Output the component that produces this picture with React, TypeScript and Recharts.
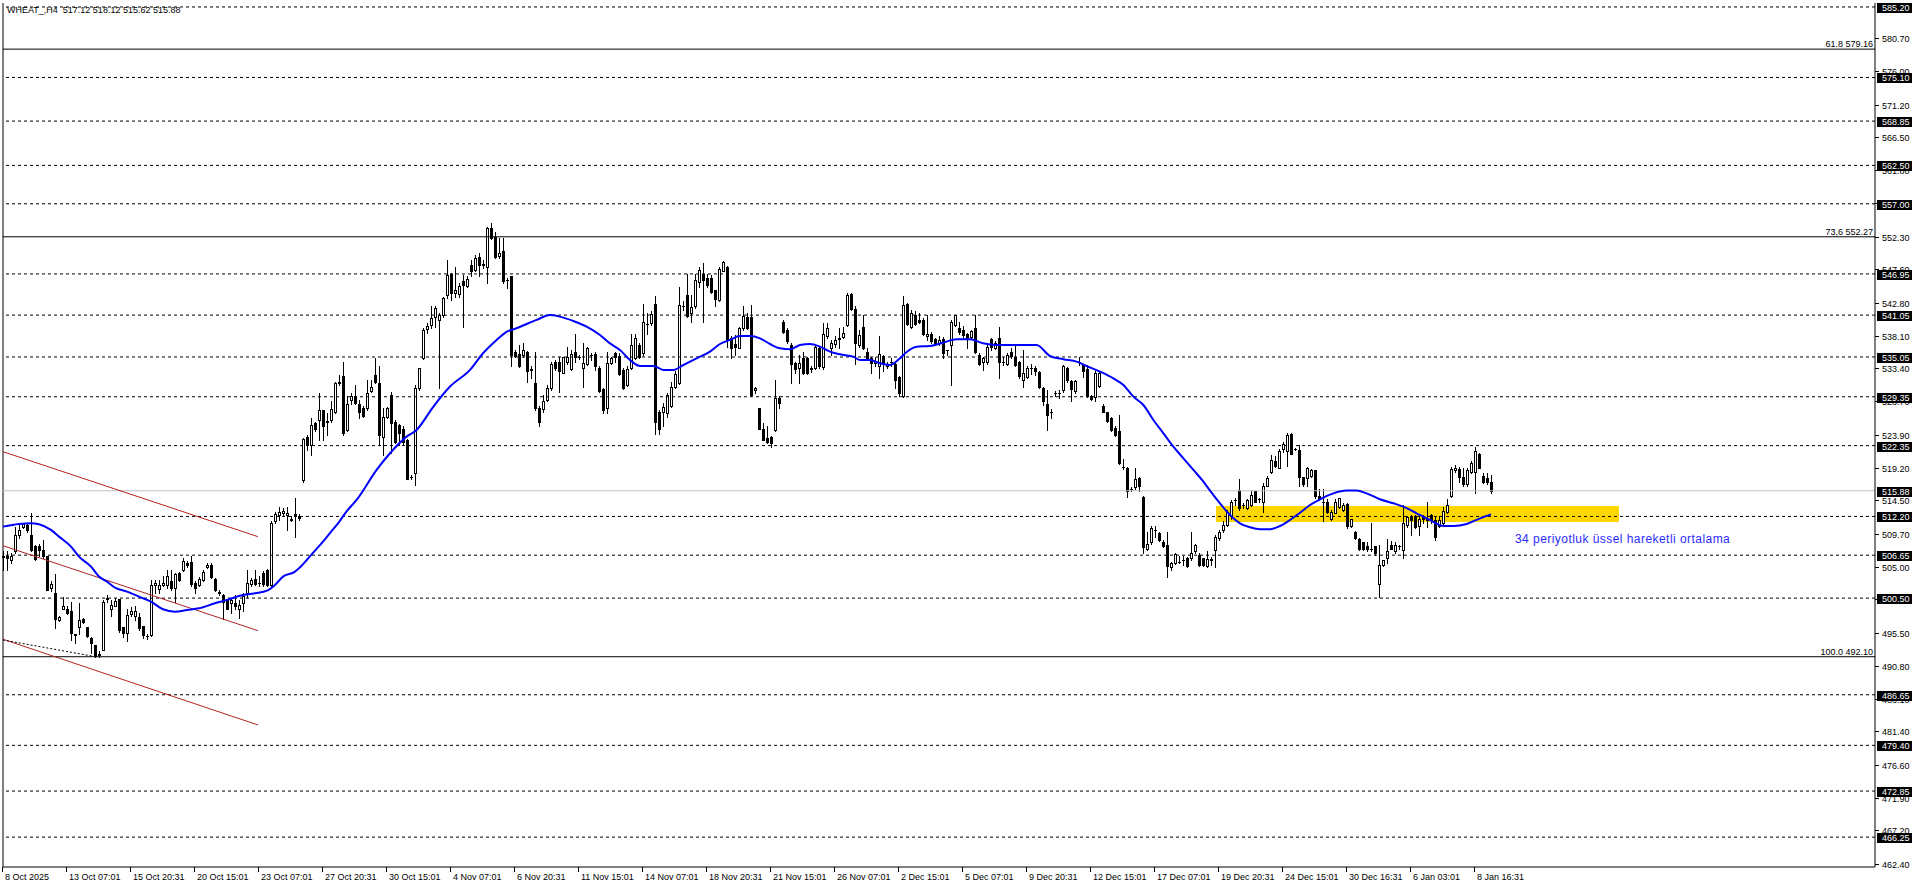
import React from "react";
import { ComposedChart, Bar, Line, XAxis, YAxis, ReferenceLine, ReferenceArea } from "recharts";

// WHEAT_ H4 candles, bar index 0..372
const opens = [
  506.5, 506.6, 505.9, 507.2, 509.5, 510.7, 511.0, 509.5, 508.0, 508.0,
  507.4, 506.5, 501.9, 501.3, 497.3, 499.0, 499.0, 498.7, 495.4, 496.4,
  497.5, 496.4, 494.8, 493.8, 492.4, 493.1, 500.4, 498.9, 499.4, 500.3,
  496.3, 495.5, 498.2, 498.0, 497.8, 496.5, 495.1, 495.2, 502.4, 501.8,
  502.4, 502.4, 502.9, 501.9, 504.1, 504.5, 505.6, 505.7, 502.6, 502.4,
  503.1, 504.9, 505.3, 503.3, 501.3, 501.0, 500.2, 499.8, 499.8, 499.0,
  499.8, 501.2, 502.5, 503.2, 502.7, 504.1, 504.5, 502.4, 511.5, 512.4,
  512.7, 512.4, 511.9, 512.5, 512.3, 517.4, 523.6, 522.5, 525.6, 526.0,
  527.4, 525.7, 526.0, 527.2, 531.3, 532.3, 524.6, 528.9, 529.4, 528.3,
  527.7, 527.7, 530.2, 532.5, 531.3, 523.6, 526.4, 529.6, 525.8, 525.3,
  524.7, 523.2, 517.8, 518.4, 530.6, 534.9, 539.0, 539.6, 540.8, 540.4,
  541.1, 544.0, 547.0, 544.2, 544.1, 545.9, 545.2, 548.2, 547.5, 549.4,
  548.4, 548.0, 553.5, 552.3, 549.5, 550.2, 546.1, 546.6, 535.8, 535.5,
  535.4, 535.8, 533.2, 531.3, 527.7, 527.6, 528.9, 530.6, 534.4, 534.4,
  532.8, 534.4, 533.3, 535.7, 535.1, 533.4, 534.1, 535.3, 535.5, 533.4,
  530.4, 527.7, 534.2, 535.6, 535.2, 533.2, 531.0, 533.4, 534.9, 536.8,
  535.6, 539.8, 539.9, 542.7, 527.2, 527.2, 527.0, 528.0, 530.8, 531.3,
  542.4, 543.9, 541.3, 542.3, 545.8, 546.9, 546.3, 546.3, 544.6, 543.2,
  547.4, 548.0, 537.7, 536.9, 536.4, 539.2, 540.8, 540.8, 530.3, 527.7,
  524.8, 523.4, 523.6, 524.6, 529.1, 540.1, 538.9, 536.8, 534.2, 533.4,
  534.9, 534.9, 533.4, 533.4, 536.4, 533.6, 538.0, 536.3, 536.9, 537.6,
  537.9, 539.6, 544.1, 541.9, 536.8, 539.4, 535.8, 534.9, 534.2, 533.7,
  535.2, 533.7, 534.4, 534.1, 532.2, 529.4, 542.7, 539.3, 541.1, 540.4,
  540.4, 538.1, 538.4, 537.6, 537.1, 537.6, 536.0, 536.8, 539.6, 539.2,
  538.9, 538.4, 537.9, 539.2, 535.4, 534.3, 534.4, 537.6, 536.3, 537.7,
  534.4, 534.1, 535.7, 535.1, 534.4, 531.8, 532.2, 533.4, 533.4, 532.9,
  530.6, 528.3, 527.1, 529.9, 529.9, 530.3, 533.4, 531.6, 530.2, 534.4,
  533.9, 533.3, 529.4, 529.3, 530.9, 528.0, 527.1, 526.3, 524.9, 524.4,
  519.3, 519.1, 516.1, 516.4, 517.7, 515.0, 507.5, 508.5, 510.2, 509.8,
  508.6, 508.1, 504.9, 505.5, 505.7, 505.9, 506.2, 506.2, 507.2, 506.7,
  506.2, 505.1, 505.9, 507.4, 509.1, 510.3, 511.0, 512.4, 514.5, 516.0,
  513.8, 513.4, 513.8, 515.8, 514.7, 514.2, 516.6, 518.5, 520.1, 519.2,
  521.8, 521.6, 524.0, 521.8, 521.7, 517.8, 517.7, 518.0, 518.8, 515.1,
  514.3, 514.3, 511.8, 512.7, 513.5, 513.1, 514.0, 510.8, 510.0, 508.9,
  508.5, 507.9, 507.6, 507.9, 502.5, 505.3, 506.2, 508.1, 507.3, 507.9,
  507.4, 511.0, 512.3, 512.3, 510.8, 512.2, 511.7, 512.4, 511.7, 510.8,
  511.2, 512.9, 515.1, 518.9, 519.0, 517.8, 516.9, 518.5, 518.5, 521.2,
  518.0, 517.7, 517.12,
];

const highs = [
  507.2, 507.2, 506.9, 510.7, 511.0, 511.3, 511.2, 512.7, 508.1, 508.3,
  508.8, 506.6, 503.0, 504.0, 497.9, 500.7, 499.4, 499.9, 495.4, 499.8,
  497.7, 496.4, 494.9, 493.8, 492.9, 500.2, 501.0, 500.2, 500.5, 500.4,
  496.4, 499.0, 499.2, 499.3, 498.3, 496.5, 495.3, 503.1, 503.1, 503.1,
  503.6, 504.5, 504.5, 504.1, 504.2, 506.2, 505.8, 506.5, 502.9, 503.5,
  504.5, 505.5, 505.6, 503.4, 501.6, 501.1, 500.4, 500.4, 501.0, 500.2,
  501.2, 504.5, 503.4, 504.5, 503.7, 504.4, 504.6, 511.5, 512.9, 513.6,
  513.4, 513.6, 512.2, 514.8, 512.6, 523.4, 523.9, 526.3, 525.8, 529.9,
  527.5, 527.0, 528.7, 531.4, 532.5, 534.4, 529.4, 529.9, 531.0, 528.9,
  528.0, 531.8, 531.8, 534.9, 533.7, 527.7, 527.9, 530.1, 526.0, 525.5,
  525.1, 523.3, 518.1, 531.1, 533.5, 539.2, 539.9, 542.3, 542.3, 541.3,
  543.7, 549.0, 547.1, 548.0, 545.6, 546.8, 546.6, 549.0, 549.7, 549.9,
  549.0, 553.7, 554.2, 553.0, 552.1, 552.1, 546.3, 546.7, 536.1, 536.8,
  537.0, 535.9, 533.7, 535.8, 528.0, 529.6, 531.0, 534.4, 534.6, 535.1,
  535.1, 536.5, 536.1, 538.4, 535.3, 537.0, 536.5, 535.6, 535.8, 533.7,
  530.6, 535.7, 535.1, 535.8, 535.6, 533.4, 533.7, 538.4, 538.4, 537.0,
  542.7, 541.3, 541.6, 543.8, 527.5, 528.4, 529.9, 531.5, 533.0, 545.1,
  543.0, 547.0, 543.9, 547.0, 548.0, 548.5, 546.9, 546.8, 544.7, 547.9,
  548.8, 548.1, 538.0, 538.2, 539.4, 542.3, 541.3, 542.5, 530.8, 527.8,
  525.6, 525.1, 523.7, 531.8, 529.4, 540.3, 539.2, 537.0, 534.4, 535.3,
  535.8, 535.1, 533.7, 536.8, 536.5, 539.9, 539.9, 537.5, 538.0, 539.2,
  539.3, 544.2, 544.2, 542.3, 538.9, 541.1, 536.4, 535.1, 535.0, 538.1,
  535.3, 534.3, 534.9, 534.2, 532.3, 543.8, 542.8, 541.8, 541.6, 541.3,
  540.6, 541.1, 538.7, 537.7, 538.0, 537.9, 536.1, 540.4, 541.1, 540.1,
  539.5, 538.5, 538.9, 541.0, 535.6, 535.1, 537.0, 537.7, 537.3, 539.3,
  535.1, 535.6, 536.3, 536.9, 534.5, 536.1, 533.7, 534.1, 533.7, 533.0,
  530.7, 530.3, 527.6, 530.2, 530.3, 533.9, 533.6, 531.8, 531.8, 535.0,
  534.1, 533.9, 529.6, 533.0, 533.0, 528.3, 527.2, 526.4, 525.1, 526.7,
  520.5, 519.3, 516.4, 519.1, 517.9, 515.1, 510.0, 510.8, 510.8, 509.9,
  508.8, 510.0, 505.7, 506.9, 506.5, 506.5, 506.4, 510.0, 508.3, 507.0,
  506.3, 507.2, 506.4, 509.6, 510.3, 511.5, 513.1, 514.6, 514.8, 517.5,
  514.1, 514.7, 515.9, 515.9, 514.9, 517.0, 518.0, 521.0, 520.8, 521.8,
  522.8, 524.2, 524.2, 522.0, 522.4, 517.9, 519.3, 519.0, 518.9, 516.2,
  516.2, 514.7, 513.1, 514.7, 514.9, 514.1, 514.1, 511.9, 510.1, 509.1,
  508.6, 508.5, 511.2, 508.0, 508.1, 506.0, 508.9, 508.7, 508.6, 508.1,
  513.8, 512.2, 512.4, 512.4, 512.2, 512.4, 514.3, 512.5, 512.2, 512.2,
  513.5, 514.7, 519.3, 519.6, 519.3, 519.1, 519.1, 520.1, 522.1, 521.3,
  518.4, 518.4, 518.12,
];

const lows = [
  504.5, 504.5, 505.6, 506.9, 509.1, 510.5, 510.0, 507.2, 505.9, 506.5,
  506.2, 501.6, 501.5, 496.2, 497.2, 498.9, 498.2, 494.5, 494.0, 495.3,
  497.0, 494.9, 492.6, 492.1, 492.1, 493.0, 500.0, 497.9, 499.3, 495.6,
  494.9, 494.3, 497.9, 497.4, 496.0, 494.8, 494.7, 495.1, 501.2, 501.2,
  502.2, 502.0, 501.6, 500.0, 503.0, 504.4, 505.0, 502.2, 501.3, 502.2,
  502.9, 504.8, 503.4, 501.5, 501.0, 497.5, 498.9, 498.3, 499.0, 497.6,
  498.7, 500.7, 502.3, 502.4, 502.2, 502.3, 502.3, 502.2, 511.3, 511.7,
  512.4, 510.3, 511.5, 509.3, 511.7, 517.2, 521.7, 521.0, 524.5, 523.2,
  523.2, 523.9, 525.8, 527.0, 531.0, 523.9, 524.4, 528.3, 528.3, 526.3,
  526.4, 527.5, 530.1, 531.3, 522.5, 521.0, 526.3, 521.3, 522.7, 522.4,
  522.5, 517.5, 517.5, 516.7, 530.3, 534.8, 538.5, 539.2, 539.4, 530.6,
  540.8, 543.5, 543.2, 543.7, 543.7, 539.4, 545.1, 546.6, 547.3, 546.7,
  547.8, 545.7, 551.9, 549.3, 549.2, 545.6, 545.0, 533.7, 535.1, 533.6,
  535.1, 531.4, 532.0, 527.5, 525.2, 527.2, 528.8, 530.3, 533.2, 530.0,
  532.7, 534.1, 533.2, 534.4, 534.7, 530.7, 533.9, 534.6, 533.2, 530.1,
  527.0, 527.0, 534.0, 534.4, 532.5, 530.4, 530.9, 533.3, 534.7, 534.9,
  535.4, 538.4, 539.6, 524.0, 524.0, 525.2, 526.5, 527.9, 530.6, 531.2,
  541.8, 540.8, 540.0, 542.0, 545.1, 540.1, 545.1, 544.2, 542.3, 543.0,
  547.3, 536.5, 534.9, 535.4, 536.3, 538.9, 539.0, 529.4, 529.9, 524.7,
  523.1, 522.7, 522.2, 524.4, 527.7, 538.5, 537.0, 531.3, 532.7, 531.3,
  532.6, 532.6, 532.9, 533.3, 533.4, 533.3, 537.7, 535.4, 536.5, 536.3,
  537.7, 539.5, 541.8, 534.1, 536.5, 536.2, 534.6, 532.7, 533.8, 532.0,
  533.0, 533.5, 533.7, 530.6, 529.4, 529.3, 539.6, 539.2, 539.6, 539.9,
  538.2, 537.5, 537.0, 536.8, 536.8, 534.9, 535.3, 531.0, 539.5, 538.4,
  537.7, 536.3, 537.7, 535.6, 533.9, 533.2, 534.1, 536.1, 536.2, 532.0,
  533.9, 533.9, 534.9, 533.7, 532.0, 530.8, 532.0, 532.6, 532.5, 530.6,
  528.2, 524.6, 526.3, 529.4, 529.1, 530.1, 531.5, 528.7, 529.9, 533.9,
  532.2, 529.3, 528.9, 528.7, 530.7, 527.1, 525.8, 524.5, 523.7, 519.7,
  519.0, 515.0, 515.8, 516.2, 515.9, 507.0, 507.4, 508.3, 509.3, 508.7,
  507.8, 503.5, 504.5, 505.4, 505.5, 505.3, 505.0, 506.0, 506.9, 505.1,
  505.1, 505.0, 505.3, 505.0, 508.8, 510.0, 510.8, 511.9, 513.8, 513.1,
  513.4, 513.2, 513.7, 514.2, 514.3, 512.9, 516.5, 518.4, 519.3, 519.1,
  521.5, 519.4, 521.1, 521.7, 516.5, 516.5, 516.6, 517.8, 514.8, 514.6,
  511.5, 512.7, 511.7, 512.7, 513.4, 513.0, 510.6, 510.7, 508.9, 507.4,
  507.4, 507.3, 507.2, 506.7, 500.7, 505.1, 505.6, 507.5, 507.0, 507.6,
  506.2, 510.7, 509.6, 510.6, 509.6, 511.2, 510.7, 511.2, 508.8, 510.7,
  511.0, 512.7, 515.0, 518.6, 517.2, 516.6, 516.5, 518.4, 515.5, 519.1,
  517.0, 516.9, 515.62,
];

const closes = [
  506.4, 506.3, 506.5, 509.5, 510.2, 511.1, 510.2, 507.4, 506.1, 507.4,
  506.5, 501.7, 502.5, 497.5, 497.8, 499.3, 498.3, 495.5, 495.2, 497.4,
  497.1, 495.0, 494.0, 492.2, 492.5, 500.0, 500.5, 499.5, 500.1, 495.9,
  495.5, 498.1, 498.6, 498.7, 496.2, 495.2, 495.1, 502.4, 502.6, 502.4,
  502.6, 503.6, 501.9, 504.0, 503.1, 505.8, 505.2, 502.5, 501.9, 503.2,
  504.3, 505.3, 503.5, 501.7, 501.4, 500.0, 499.0, 500.2, 499.3, 499.5,
  500.8, 502.7, 503.1, 502.5, 502.6, 502.5, 502.4, 511.2, 512.6, 512.9,
  513.0, 512.7, 511.7, 512.4, 512.0, 523.3, 522.5, 525.3, 524.7, 527.5,
  525.1, 525.9, 527.6, 531.3, 531.5, 524.2, 528.3, 529.5, 528.4, 527.2,
  526.6, 529.9, 530.8, 531.5, 523.9, 526.5, 527.7, 525.6, 522.9, 524.1,
  522.8, 517.6, 517.8, 530.6, 533.4, 538.9, 539.5, 540.6, 542.0, 541.1,
  543.5, 546.8, 544.2, 544.6, 545.2, 545.4, 546.2, 547.4, 549.2, 548.2,
  548.2, 553.5, 552.1, 549.4, 550.0, 545.9, 546.1, 535.3, 535.2, 533.7,
  536.1, 533.0, 533.3, 527.7, 525.8, 528.7, 530.6, 534.1, 533.4, 533.0,
  535.0, 535.1, 535.5, 535.1, 535.1, 534.2, 536.3, 535.4, 533.7, 530.2,
  527.5, 534.2, 534.9, 535.1, 532.6, 530.6, 533.3, 536.8, 537.7, 535.1,
  540.0, 539.8, 541.2, 525.8, 524.8, 527.9, 529.6, 530.8, 532.6, 542.5,
  542.4, 540.9, 542.2, 546.1, 547.5, 546.1, 545.4, 544.4, 543.3, 547.6,
  548.7, 537.5, 536.3, 536.5, 539.2, 540.9, 539.2, 529.6, 530.6, 524.8,
  523.2, 522.9, 522.7, 529.1, 528.4, 538.7, 537.3, 534.1, 533.3, 534.2,
  532.7, 532.7, 533.3, 536.5, 533.7, 538.4, 539.2, 537.0, 537.5, 537.8,
  538.5, 543.9, 541.9, 537.0, 538.2, 536.3, 534.9, 534.2, 534.5, 535.5,
  534.1, 534.1, 534.3, 531.8, 529.9, 542.5, 539.8, 541.3, 539.8, 540.0,
  538.4, 538.4, 537.3, 536.9, 537.5, 535.6, 536.1, 540.1, 541.0, 538.7,
  538.2, 537.6, 538.8, 535.7, 534.1, 534.9, 536.5, 536.5, 537.0, 534.4,
  534.4, 535.4, 535.2, 533.9, 532.3, 532.7, 533.4, 533.4, 533.0, 530.7,
  528.7, 526.7, 527.1, 529.9, 529.9, 533.7, 531.7, 530.4, 531.6, 534.4,
  533.1, 529.4, 529.0, 532.7, 532.7, 527.2, 525.9, 524.6, 523.9, 519.8,
  519.3, 515.8, 516.1, 517.5, 516.5, 507.8, 508.3, 510.5, 510.2, 508.8,
  507.9, 505.1, 505.5, 506.8, 505.7, 505.9, 505.1, 507.0, 508.1, 505.3,
  505.3, 506.1, 506.1, 509.3, 510.0, 511.0, 512.9, 514.3, 514.5, 513.4,
  513.8, 514.5, 515.3, 514.3, 514.7, 516.6, 517.7, 520.3, 519.4, 521.6,
  522.6, 523.9, 521.2, 521.8, 517.9, 516.9, 519.1, 518.9, 515.1, 514.8,
  514.3, 512.9, 512.9, 514.3, 514.8, 513.8, 510.8, 511.8, 509.1, 507.6,
  507.5, 507.5, 507.6, 506.9, 505.3, 505.9, 507.2, 507.6, 508.1, 507.9,
  511.2, 512.1, 511.7, 510.7, 511.9, 511.8, 511.9, 511.7, 509.3, 511.7,
  513.0, 513.8, 519.0, 519.2, 517.8, 516.9, 518.9, 519.9, 521.6, 519.2,
  517.2, 517.2, 515.88,
];

// 34-period EMA at these bar positions
const emaBars = [
  0, 4, 7, 9, 12, 14, 17, 19, 22, 24, 26, 28, 31, 34, 37, 40, 43, 46, 49, 53,
  56, 59, 63, 66, 68, 70, 73, 74, 76, 78, 80, 82, 84, 86, 88.4, 93.4, 96.75, 100.9, 103.4, 107.6,
  111.75, 116.75, 120, 123.4, 126, 128.4, 130.9, 133.4, 136.75, 139.25, 142.6, 145.9, 149.25, 151.75, 154.25, 156.75, 159.25, 162.6, 165.1, 167.6,
  170.1, 173.4, 176.75, 179.25, 181.75, 184.25, 186.75, 189.25, 191.75, 194.25, 196.75, 199.25, 201.75, 204.25, 206.75, 209.25, 212.6, 214.25, 216.75, 219.25,
  221.75, 224.25, 226, 228.4, 231.75, 235, 238.4, 241.75, 245, 248.4, 251.75, 255.1, 258.4, 261.75, 265.1, 268.4, 270.9, 274.25, 277.6, 280.1,
  282.6, 285.1, 287.6, 290.1, 292.6, 295.1, 297.6, 300.1, 301.75, 304.25, 306.75, 309.25, 311.75, 314.25, 316.75, 319.25, 321.75, 324.25, 326.75, 329.25,
  332.6, 335.9, 338.4, 340.9, 344.25, 347.6, 350.1, 353.4, 356.75, 360.1, 362.6, 365.9, 369.25, 372,
];
const emaValues = [
  510.74, 511.12, 511.22, 511.08, 510.27, 509.31, 507.88, 506.45, 505.01, 503.58, 502.86, 502.0, 501.43, 500.71, 499.99, 498.9, 498.56, 498.8, 499.04, 499.76,
  500.24, 500.81, 501.19, 501.57, 502.39, 503.58, 504.3, 504.77, 506.0, 507.3, 508.6, 510.0, 511.4, 513.0, 514.57, 518.87, 521.26, 523.64, 524.6, 527.94,
  530.81, 533.2, 535.58, 537.49, 538.69, 539.16, 539.78, 540.36, 541.07, 540.83, 540.2, 539.4, 538.2, 537.0, 536.05, 534.62, 533.76, 533.76, 533.19, 533.19,
  533.9, 534.86, 535.81, 536.91, 537.49, 538.06, 538.06, 537.72, 536.91, 536.29, 536.15, 536.77, 536.91, 536.53, 535.81, 535.43, 535.1, 534.62, 534.62, 534.14,
  533.9, 534.86, 535.8, 536.53, 536.62, 537.1, 537.58, 537.58, 537.01, 536.77, 536.77, 536.77, 536.77, 535.19, 534.72, 534.38, 533.76, 532.95, 531.99, 531.04,
  529.37, 528.17, 526.02, 524.11, 522.2, 520.53, 518.86, 517.19, 515.9, 514.08, 512.41, 511.22, 510.64, 510.36, 510.36, 510.83, 511.69, 512.74, 513.84, 514.66,
  515.51, 515.9, 515.9, 515.51, 514.66, 514.08, 513.6, 512.65, 511.69, 510.83, 510.83, 511.12, 511.93, 512.5,
];

const xTicks = [0, 16, 32, 48, 64, 80, 96, 112, 128, 144, 160, 176, 192, 208, 224, 240, 256, 272, 288, 304, 320, 336, 352, 368];
const xTickLabels = [
  "8 Oct 2025", "13 Oct 07:01", "15 Oct 20:31", "20 Oct 15:01", "23 Oct 07:01", "27 Oct 20:31",
  "30 Oct 15:01", "4 Nov 07:01", "6 Nov 20:31", "11 Nov 15:01", "14 Nov 07:01", "18 Nov 20:31",
  "21 Nov 15:01", "26 Nov 07:01", "2 Dec 15:01", "5 Dec 07:01", "9 Dec 20:31", "12 Dec 15:01",
  "17 Dec 07:01", "19 Dec 20:31", "24 Dec 15:01", "30 Dec 16:31", "6 Jan 03:01", "8 Jan 16:31",
];

const yTicks = [
  580.7, 576.0, 571.2, 566.5, 561.8, 557.1, 552.3, 547.6, 542.8, 538.1, 533.4, 528.7, 523.9,
  519.2, 514.5, 509.7, 505.0, 500.3, 495.5, 490.8, 486.1, 481.4, 476.6, 471.9, 467.2, 462.4,
];
const levels = [
  585.2, 575.1, 568.85, 562.5, 557.0, 546.95, 541.05, 535.05, 529.35, 522.35, 512.2, 506.65,
  500.5, 486.65, 479.4, 472.85, 466.25,
];
const fibLevels = [579.16, 552.27, 492.1];
const fibTexts = ["61.8 579.16", "73,6 552.27", "100.0 492.10"];
const lastPrice = 515.88;

const candles = opens.map((o, i) => ({
  x: i,
  open: o,
  high: highs[i],
  low: lows[i],
  close: closes[i],
  range: [lows[i], highs[i]],
}));
const emaData = emaBars.map((x, k) => ({ x, ema: emaValues[k] }));
const boxed = [...levels, lastPrice];

const FONT = "'Liberation Sans', Arial, sans-serif";

const Candle = (props: any) => {
  const { x, y, width, height, payload } = props;
  if (!payload) return null;
  const { open, close, high, low } = payload;
  const top = Math.min(y, y + height);
  const h = Math.abs(height);
  const k = high > low ? h / (high - low) : 0;
  const py = (v: number) => top + (high - v) * k;
  const c = Math.round(x + width / 2);
  const yo = Math.round(py(open));
  const yc = Math.round(py(close));
  const b0 = Math.min(yo, yc);
  const b1 = Math.max(yo, yc);
  return (
    <g shapeRendering="crispEdges">
      <line x1={c + 0.5} x2={c + 0.5} y1={Math.round(top)} y2={Math.round(top + h) + 1} stroke="#000" />
      {b1 - b0 < 1 ? (
        <line x1={c - 1} x2={c + 2} y1={b0 + 0.5} y2={b0 + 0.5} stroke="#000" />
      ) : (
        <rect x={c - 0.5} y={b0 + 0.5} width={2} height={b1 - b0} fill={close >= open ? "#fff" : "#000"} stroke="#000" />
      )}
    </g>
  );
};

const XTick = (props: any) => {
  const { x, y, payload } = props;
  const px = Math.round(x) - 1;
  return (
    <g>
      <line x1={px + 0.5} x2={px + 0.5} y1={y} y2={y + 5} stroke="#000" />
      <text x={px + 3} y={y + 13} fontSize={9} fontFamily={FONT} fill="#000" textAnchor="start">
        {xTickLabels[Math.round(payload.value / 16)]}
      </text>
    </g>
  );
};

const YTick = (props: any) => {
  const { x, y, payload } = props;
  const v = payload.value;
  const yy = Math.round(y);
  if (boxed.includes(v)) {
    return (
      <g>
        <rect x={x + 2} y={yy - 4} width={35} height={10} fill="#000" />
        <text x={x + 7} y={yy + 4} fontSize={9} fontFamily={FONT} fill="#fff">{v.toFixed(2)}</text>
      </g>
    );
  }
  return (
    <g>
      <line x1={x} x2={x + 4} y1={yy + 0.5} y2={yy + 0.5} stroke="#000" />
      <text x={x + 7} y={yy + 4} fontSize={9} fontFamily={FONT} fill="#000">{v.toFixed(2)}</text>
    </g>
  );
};

const FibLabel = (props: any) => {
  const vb = props.viewBox || {};
  return (
    <text x={vb.x + vb.width - 2} y={vb.y - 2} fontSize={9} fontFamily={FONT} fill="#000" textAnchor="end">
      {props.text}
    </text>
  );
};

export default function App() {
  return (
    <div style={{ position: "absolute", left: 0, top: 0, width: 1916, height: 888, background: "#fff" }}>
      <ComposedChart
        width={1916}
        height={888}
        data={candles}
        margin={{ top: 3, right: 0, bottom: 0, left: 3 }}
        style={{ fontFamily: FONT }}
      >
        <XAxis
          type="number"
          dataKey="x"
          domain={[0, 468]}
          ticks={xTicks}
          interval={0}
          tick={<XTick />}
          tickLine={false}
          tickSize={0}
          tickMargin={0}
          height={21}
          axisLine={{ stroke: "#000" }}
        />
        <YAxis
          orientation="right"
          type="number"
          domain={[461.97, 585.77]}
          ticks={[...yTicks, ...boxed]}
          interval={0}
          width={41}
          tick={<YTick />}
          tickLine={false}
          tickSize={0}
          tickMargin={0}
          axisLine={{ stroke: "#000" }}
        />
        <ReferenceArea x1={303.25} x2={404} y1={511.4} y2={513.7} fill="#ffd700" fillOpacity={1} stroke="none" />
        <ReferenceLine x={0} stroke="#000" />
        {levels.map((v) => (
          <ReferenceLine key={"l" + v} y={v} stroke="#000" strokeDasharray="3 3" />
        ))}
        {fibLevels.map((v, k) => (
          <ReferenceLine key={"f" + v} y={v} stroke="#000" label={<FibLabel text={fibTexts[k]} />} />
        ))}
        <ReferenceLine y={lastPrice} stroke="#c0c0c0" />
        <ReferenceLine segment={[{ x: 0, y: 521.48 }, { x: 63.75, y: 509.3 }]} stroke="#b22222" />
        <ReferenceLine segment={[{ x: 0, y: 508.01 }, { x: 63.75, y: 495.83 }]} stroke="#b22222" />
        <ReferenceLine segment={[{ x: 0, y: 494.6 }, { x: 63.75, y: 482.32 }]} stroke="#b22222" />
        <ReferenceLine segment={[{ x: 0, y: 494.5 }, { x: 22.25, y: 492.2 }]} stroke="#000" strokeDasharray="2 2" />
        <Bar dataKey="range" shape={<Candle />} barSize={3} isAnimationActive={false} />
        <Line
          data={emaData}
          dataKey="ema"
          type="monotone"
          stroke="#0000ff"
          strokeWidth={2}
          dot={false}
          activeDot={false}
          isAnimationActive={false}
        />
      </ComposedChart>
      <div style={{ position: "absolute", left: 7, top: 5, fontFamily: FONT, fontSize: 9, color: "#000", whiteSpace: "pre" }}>
        {"WHEAT_,H4  517.12 518.12 515.62 515.88"}
      </div>
      <div style={{ position: "absolute", left: 1515, top: 532, fontFamily: FONT, fontSize: 12, letterSpacing: 0.45, color: "#2b2bff", whiteSpace: "nowrap" }}>
        34 periyotluk üssel hareketli ortalama
      </div>
    </div>
  );
}
